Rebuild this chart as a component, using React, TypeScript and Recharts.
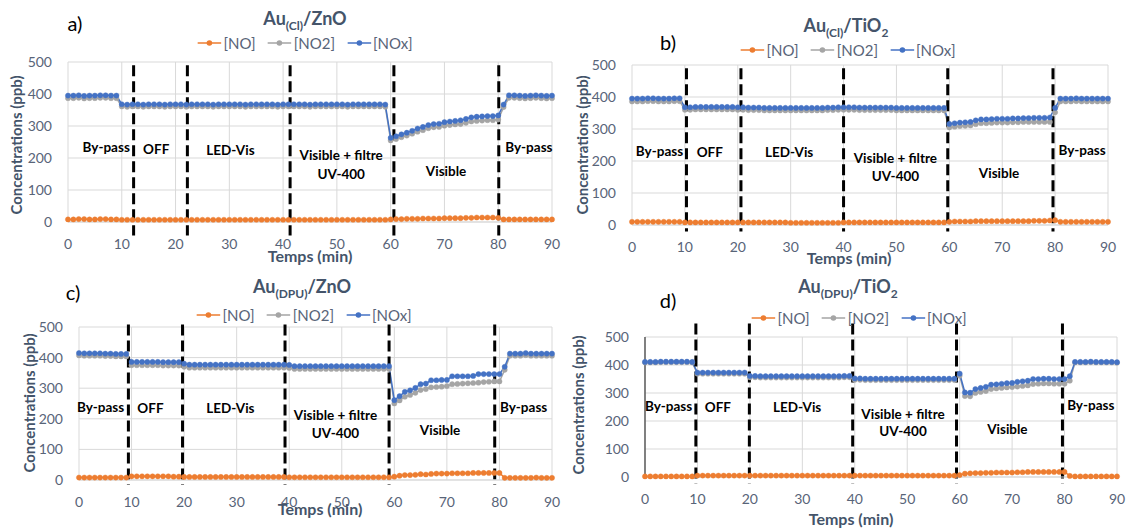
import React from 'react'
import {
  LineChart,
  Line,
  XAxis,
  YAxis,
  CartesianGrid,
  ReferenceLine,
  ReferenceDot,
} from 'recharts'

// time axis (min)
const MINUTES = [
  0, 1, 2, 3, 4, 5, 6, 7, 8, 9, 10, 11, 12, 13, 14, 15, 16, 17, 18, 19,
  20, 21, 22, 23, 24, 25, 26, 27, 28, 29, 30, 31, 32, 33, 34, 35, 36, 37, 38, 39,
  40, 41, 42, 43, 44, 45, 46, 47, 48, 49, 50, 51, 52, 53, 54, 55, 56, 57, 58, 59,
  60, 61, 62, 63, 64, 65, 66, 67, 68, 69, 70, 71, 72, 73, 74, 75, 76, 77, 78, 79,
  80, 81, 82, 83, 84, 85, 86, 87, 88, 89, 90,
]
const X_TICKS = [0, 10, 20, 30, 40, 50, 60, 70, 80, 90]
const Y_TICKS = [0, 100, 200, 300, 400, 500]

// a) Au(Cl)/ZnO
const NO_A = [
  8, 8, 9, 9, 8, 8, 9, 9, 8, 8,
  7, 7, 7, 7, 7, 7, 7, 7, 7, 7,
  7, 7, 7, 7, 7, 7, 7, 7, 7, 7,
  7, 7, 7, 7, 7, 7, 7, 7, 7, 7,
  7, 7, 7, 7, 7, 7, 7, 7, 7, 7,
  7, 7, 7, 7, 7, 7, 7, 7, 7, 7,
  8, 9, 9, 10, 10, 10, 11, 11, 11, 11,
  12, 12, 12, 12, 13, 13, 14, 14, 14, 14,
  13, 8, 8, 8, 8, 8, 8, 8, 8, 8, 8,
]
const NO2_A = [
  387, 387, 388, 386, 387, 387, 388, 388, 387, 387,
  361, 360, 361, 361, 360, 361, 361, 361, 360, 361,
  361, 361, 360, 361, 361, 361, 361, 360, 361, 361,
  361, 361, 361, 360, 361, 361, 361, 361, 361, 360,
  361, 361, 361, 361, 361, 360, 361, 361, 361, 361,
  361, 361, 360, 361, 361, 361, 361, 361, 361, 360,
  255, 259, 265, 270, 276, 282, 287, 293, 296, 297,
  301, 303, 305, 306, 310, 314, 316, 317, 318, 318,
  320, 359, 388, 388, 387, 386, 387, 388, 387, 386, 387,
]
const NOX_A = [
  395, 395, 396, 394, 395, 395, 396, 396, 395, 395,
  368, 367, 368, 368, 367, 368, 368, 368, 367, 368,
  368, 368, 367, 368, 368, 368, 368, 367, 368, 368,
  368, 368, 368, 367, 368, 368, 368, 368, 368, 367,
  368, 368, 368, 368, 368, 367, 368, 368, 368, 368,
  368, 368, 367, 368, 368, 368, 368, 368, 368, 367,
  263, 268, 274, 279, 285, 292, 297, 303, 306, 307,
  312, 314, 316, 318, 322, 327, 329, 330, 331, 331,
  333, 367, 396, 396, 395, 394, 395, 396, 395, 394, 395,
]

// b) Au(Cl)/TiO2
const NO_B = [
  10, 10, 10, 10, 10, 10, 10, 10, 10, 10,
  8, 8, 8, 8, 8, 8, 8, 8, 8, 8,
  8, 8, 8, 8, 8, 8, 8, 8, 8, 8,
  7, 7, 7, 7, 7, 7, 7, 7, 7, 7,
  8, 8, 8, 8, 8, 8, 8, 8, 8, 8,
  8, 8, 8, 8, 8, 8, 8, 8, 8, 8,
  10, 11, 11, 11, 11, 12, 12, 12, 12, 12,
  12, 12, 12, 12, 12, 12, 13, 13, 13, 14,
  15, 10, 10, 10, 10, 10, 10, 10, 10, 10, 10,
]
const NO2_B = [
  386, 386, 386, 387, 387, 386, 386, 386, 387, 387,
  360, 360, 361, 361, 361, 361, 361, 361, 361, 361,
  360, 360, 359, 359, 359, 358, 358, 358, 358, 358,
  358, 358, 358, 358, 358, 358, 358, 359, 359, 360,
  360, 360, 360, 359, 359, 359, 359, 359, 359, 359,
  358, 358, 358, 358, 358, 358, 358, 358, 358, 358,
  305, 307, 309, 310, 311, 315, 318, 318, 319, 320,
  320, 320, 321, 321, 322, 322, 322, 322, 322, 322,
  352, 386, 386, 386, 387, 386, 386, 386, 386, 386, 386,
]
const NOX_B = [
  395, 395, 395, 396, 396, 395, 395, 395, 396, 396,
  368, 368, 369, 369, 369, 369, 369, 369, 369, 369,
  368, 368, 367, 367, 367, 366, 366, 366, 366, 366,
  366, 366, 366, 366, 366, 366, 366, 367, 367, 368,
  368, 368, 368, 367, 367, 367, 367, 367, 367, 367,
  366, 366, 366, 366, 366, 366, 366, 366, 366, 366,
  316, 318, 320, 321, 322, 327, 330, 330, 331, 332,
  332, 332, 333, 333, 334, 334, 335, 335, 335, 336,
  366, 395, 395, 395, 396, 395, 395, 395, 395, 395, 395,
]

// c) Au(DPU)/ZnO
const NO_C = [
  8, 8, 8, 8, 8, 8, 8, 8, 8, 8,
  12, 12, 12, 12, 12, 12, 12, 12, 11, 11,
  10, 10, 10, 10, 10, 10, 10, 10, 10, 10,
  10, 10, 10, 10, 10, 10, 10, 10, 10, 10,
  9, 9, 9, 9, 9, 9, 9, 9, 9, 9,
  9, 9, 9, 9, 9, 9, 9, 9, 9, 9,
  11, 14, 16, 16, 17, 19, 18, 20, 21, 21,
  21, 22, 22, 22, 22, 23, 23, 23, 23, 23,
  23, 7, 7, 7, 7, 7, 7, 8, 7, 7, 7,
]
const NO2_C = [
  407, 406, 406, 406, 406, 405, 405, 404, 404, 404,
  375, 375, 375, 375, 375, 375, 374, 374, 374, 374,
  370, 367, 367, 367, 367, 367, 367, 367, 367, 367,
  367, 367, 367, 367, 367, 367, 367, 367, 367, 367,
  366, 363, 363, 363, 363, 363, 363, 363, 363, 363,
  363, 363, 363, 363, 363, 363, 363, 363, 363, 363,
  250, 260, 272, 278, 285, 294, 297, 303, 304, 305,
  307, 313, 314, 315, 316, 317, 318, 320, 321, 322,
  322, 360, 406, 406, 406, 408, 406, 406, 406, 406, 406,
]
const NOX_C = [
  415, 414, 414, 414, 414, 413, 413, 412, 412, 412,
  386, 386, 386, 386, 386, 386, 385, 385, 385, 385,
  380, 377, 377, 377, 377, 377, 377, 377, 377, 377,
  377, 377, 377, 377, 377, 377, 377, 377, 377, 377,
  376, 372, 372, 372, 372, 372, 372, 372, 372, 372,
  372, 372, 372, 372, 372, 372, 372, 372, 372, 372,
  261, 274, 288, 293, 301, 313, 315, 326, 326, 327,
  327, 339, 339, 339, 339, 340, 346, 346, 346, 346,
  346, 370, 413, 413, 413, 415, 413, 413, 413, 413, 413,
]

// d) Au(DPU)/TiO2
const NO_D = [
  2, 2, 2, 2, 2, 2, 2, 2, 2, 2,
  5, 5, 5, 5, 5, 5, 5, 5, 5, 5,
  5, 5, 5, 5, 5, 5, 5, 5, 5, 5,
  5, 5, 5, 5, 5, 5, 5, 5, 5, 5,
  5, 5, 5, 5, 5, 5, 5, 5, 5, 5,
  5, 5, 5, 5, 5, 5, 5, 5, 5, 5,
  7, 12, 13, 14, 14, 15, 15, 16, 16, 16,
  16, 17, 17, 18, 18, 18, 18, 18, 18, 18,
  18, 4, 2, 2, 2, 2, 2, 2, 2, 2, 2,
]
const NO2_D = [
  409, 409, 409, 410, 410, 410, 410, 410, 410, 409,
  369, 369, 369, 369, 369, 369, 369, 369, 369, 369,
  356, 356, 355, 355, 355, 355, 355, 355, 355, 355,
  355, 355, 355, 355, 355, 355, 355, 355, 356, 356,
  347, 347, 346, 346, 346, 346, 346, 346, 346, 346,
  346, 346, 346, 346, 346, 346, 346, 346, 346, 346,
  362, 289, 288, 300, 304, 307, 314, 316, 318, 320,
  321, 323, 325, 327, 332, 333, 334, 334, 333, 333,
  333, 344, 409, 409, 409, 410, 409, 409, 409, 409, 408,
]
const NOX_D = [
  411, 411, 411, 412, 412, 412, 412, 412, 412, 411,
  373, 373, 373, 373, 373, 373, 373, 373, 373, 373,
  361, 361, 360, 360, 360, 360, 360, 360, 360, 360,
  360, 360, 360, 360, 360, 360, 360, 360, 361, 361,
  352, 352, 351, 351, 351, 351, 351, 351, 351, 351,
  351, 351, 351, 351, 351, 351, 351, 351, 351, 351,
  369, 302, 301, 314, 318, 322, 330, 331, 333, 335,
  336, 340, 342, 344, 350, 350, 351, 351, 350, 350,
  350, 360, 411, 411, 411, 412, 411, 411, 411, 411, 410,
]

// phase boundaries (min) drawn as dashed lines
const DIV_A = [12.2, 22.2, 41.3, 60.6, 80.1]
const DIV_B = [10.3, 20.6, 40.0, 59.7, 79.6]
const DIV_C = [9.4, 19.7, 39.2, 59.0, 79.1]
const DIV_D = [9.7, 19.9, 39.6, 59.4, 79.6]

// phase labels at (min, ppb)
const NOTES_A = [
  { x: 7.1, y: 234, text: 'By-pass' },
  { x: 16.4, y: 229, text: 'OFF' },
  { x: 30.2, y: 226, text: 'LED-Vis' },
  { x: 50.8, y: 208, text: 'Visible + filtre' },
  { x: 50.8, y: 151, text: 'UV-400' },
  { x: 70.3, y: 159, text: 'Visible' },
  { x: 85.7, y: 234, text: 'By-pass' },
]
const NOTES_B = [
  { x: 5.2, y: 232, text: 'By-pass' },
  { x: 14.7, y: 229, text: 'OFF' },
  { x: 29.7, y: 229, text: 'LED-Vis' },
  { x: 49.8, y: 208, text: 'Visible + filtre' },
  { x: 49.8, y: 153, text: 'UV-400' },
  { x: 69.4, y: 161, text: 'Visible' },
  { x: 85.1, y: 234, text: 'By-pass' },
]
const NOTES_C = [
  { x: 4.1, y: 239, text: 'By-pass' },
  { x: 13.6, y: 236, text: 'OFF' },
  { x: 28.8, y: 236, text: 'LED-Vis' },
  { x: 48.8, y: 212, text: 'Visible + filtre' },
  { x: 48.8, y: 154, text: 'UV-400' },
  { x: 68.7, y: 163, text: 'Visible' },
  { x: 84.6, y: 239, text: 'By-pass' },
]
const NOTES_D = [
  { x: 4.5, y: 253, text: 'By-pass' },
  { x: 13.9, y: 250, text: 'OFF' },
  { x: 29.0, y: 250, text: 'LED-Vis' },
  { x: 49.2, y: 226, text: 'Visible + filtre' },
  { x: 49.2, y: 164, text: 'UV-400' },
  { x: 69.1, y: 173, text: 'Visible' },
  { x: 85.0, y: 256, text: 'By-pass' },
]

const SERIES = [
  { key: 'no', name: '[NO]', color: '#ED7D31' },
  { key: 'no2', name: '[NO2]', color: '#A5A5A5' },
  { key: 'nox', name: '[NOx]', color: '#4472C4' },
]

const FONT = 'Lato, "Open Sans", sans-serif'
const SLATE = '#44546A'
const TICK = '#586478'

const PANELS = [
  {
    letter: 'a)', sample: '(Cl)', support: 'ZnO', supportSub: '',
    no: NO_A, no2: NO2_A, nox: NOX_A, dividers: DIV_A, divSpan: [490, -42], notes: NOTES_A,
    box: { left: 0, top: 0, width: 565, height: 270 },
    plot: { x0: 68, x1: 552, y500: 62, y0: 222 },
    titleAt: [305, 20], letterAt: [75, 23], legendAt: [305, 43],
    xTitleAt: [310, 255], yTitleAt: [16, 145], darkAxis: false,
  },
  {
    letter: 'b)', sample: '(Cl)', support: 'TiO', supportSub: '2',
    no: NO_B, no2: NO2_B, nox: NOX_B, dividers: DIV_B, divSpan: [490, -20], notes: NOTES_B,
    box: { left: 565, top: 0, width: 566, height: 270 },
    plot: { x0: 632, x1: 1108, y500: 65, y0: 225 },
    titleAt: [846, 27], letterAt: [668, 42], legendAt: [848, 50],
    xTitleAt: [849, 257], yTitleAt: [582, 145], darkAxis: false,
  },
  {
    letter: 'c)', sample: '(DPU)', support: 'ZnO', supportSub: '',
    no: NO_C, no2: NO2_C, nox: NOX_C, dividers: DIV_C, divSpan: [508, -16], notes: NOTES_C,
    box: { left: 0, top: 270, width: 565, height: 260 },
    plot: { x0: 79, x1: 552, y500: 327, y0: 480 },
    titleAt: [302, 288], letterAt: [73, 292], legendAt: [304, 315],
    xTitleAt: [320, 508], yTitleAt: [29, 403], darkAxis: false,
  },
  {
    letter: 'd)', sample: '(DPU)', support: 'TiO', supportSub: '2',
    no: NO_D, no2: NO2_D, nox: NOX_D, dividers: DIV_D, divSpan: [548, -24], notes: NOTES_D,
    box: { left: 565, top: 270, width: 566, height: 260 },
    plot: { x0: 645, x1: 1117, y500: 337, y0: 477 },
    titleAt: [848, 288], letterAt: [668, 300], legendAt: [859, 318],
    xTitleAt: [851, 518], yTitleAt: [578, 405], darkAxis: true,
  },
]

const X_AXIS_H = 30

function centered(at: number[]): React.CSSProperties {
  return {
    position: 'absolute',
    left: at[0],
    top: at[1],
    transform: 'translate(-50%, -50%)',
    whiteSpace: 'nowrap',
  }
}

function NoteText(props: any) {
  const { cx, cy, text } = props
  return (
    <text
      x={cx}
      y={cy}
      textAnchor="middle"
      dominantBaseline="central"
      fontFamily={FONT}
      fontWeight={700}
      fontSize={13.5}
      fill="#000"
    >
      {text}
    </text>
  )
}

function Legend({ at }: { at: number[] }) {
  return (
    <div style={{ ...centered(at), display: 'flex', alignItems: 'center', gap: 12 }}>
      {SERIES.map((s) => (
        <span key={s.key} style={{ display: 'flex', alignItems: 'center', fontSize: 15, color: TICK }}>
          <svg width={24} height={10} style={{ marginRight: 2 }}>
            <line x1={0} y1={5} x2={24} y2={5} stroke={s.color} strokeWidth={1.5} />
            <circle cx={12} cy={5} r={2.8} fill={s.color} />
          </svg>
          {s.name}
        </span>
      ))}
    </div>
  )
}

function Panel({ p }: { p: (typeof PANELS)[number] }) {
  const rows = MINUTES.map((t, i) => ({ t, no: p.no[i], no2: p.no2[i], nox: p.nox[i] }))
  const { box, plot } = p
  const yAxisW = plot.x0 - box.left
  const margin = {
    top: plot.y500 - box.top,
    right: box.left + box.width - plot.x1,
    bottom: box.top + box.height - plot.y0 - X_AXIS_H,
    left: 0,
  }

  return (
    <>
      <div style={{ position: 'absolute', left: box.left, top: box.top }}>
        <LineChart width={box.width} height={box.height} data={rows} margin={margin}>
          <CartesianGrid stroke="#D9D9D9" strokeWidth={1} />
          <XAxis
            dataKey="t"
            type="number"
            domain={[0, 90]}
            ticks={X_TICKS}
            height={X_AXIS_H}
            tickSize={0}
            tickMargin={17}
            axisLine={{ stroke: '#D9D9D9' }}
            tick={{ fontSize: 14, fill: TICK, fontFamily: FONT }}
          />
          <YAxis
            type="number"
            domain={[0, 500]}
            ticks={Y_TICKS}
            width={yAxisW}
            tickSize={0}
            tickMargin={16}
            axisLine={p.darkAxis ? { stroke: '#3A3A3A', strokeWidth: 1.2 } : false}
            tick={{ fontSize: 14, fill: TICK, fontFamily: FONT }}
          />
          {SERIES.map((s) => (
            <Line
              key={s.key}
              type="linear"
              dataKey={s.key}
              stroke={s.color}
              strokeWidth={1.5}
              dot={{ r: 2.6, fill: s.color, stroke: s.color, strokeWidth: 0.4 }}
              isAnimationActive={false}
            />
          ))}
          {p.dividers.map((x) => (
            <ReferenceLine
              key={x}
              segment={[{ x, y: p.divSpan[0] }, { x, y: p.divSpan[1] }]}
              ifOverflow="visible"
              stroke="#000"
              strokeWidth={3}
              strokeDasharray="11 5"
            />
          ))}
          {p.notes.map((n, i) => (
            <ReferenceDot
              key={i}
              x={n.x}
              y={n.y}
              r={0}
              ifOverflow="visible"
              shape={(props: any) => <NoteText {...props} text={n.text} />}
            />
          ))}
        </LineChart>
      </div>
      <div style={{ ...centered(p.letterAt), fontSize: 20, color: '#000' }}>{p.letter}</div>
      <div style={{ ...centered(p.titleAt), fontSize: 18, fontWeight: 700, color: SLATE }}>
        Au<sub style={{ fontSize: 12 }}>{p.sample}</sub>/{p.support}
        {p.supportSub && <sub style={{ fontSize: 12 }}>{p.supportSub}</sub>}
      </div>
      <Legend at={p.legendAt} />
      <div style={{ ...centered(p.xTitleAt), fontSize: 16, fontWeight: 700, color: SLATE }}>Temps (min)</div>
      <div
        style={{
          ...centered(p.yTitleAt),
          transform: 'translate(-50%, -50%) rotate(-90deg)',
          fontSize: 15,
          fontWeight: 700,
          color: SLATE,
        }}
      >
        Concentrations (ppb)
      </div>
    </>
  )
}

export default function App() {
  return (
    <div
      style={{
        position: 'absolute',
        left: 0,
        top: 0,
        width: 1131,
        height: 530,
        background: '#fff',
        fontFamily: FONT,
        overflow: 'hidden',
      }}
    >
      {PANELS.map((p) => (
        <Panel key={p.letter} p={p} />
      ))}
    </div>
  )
}
